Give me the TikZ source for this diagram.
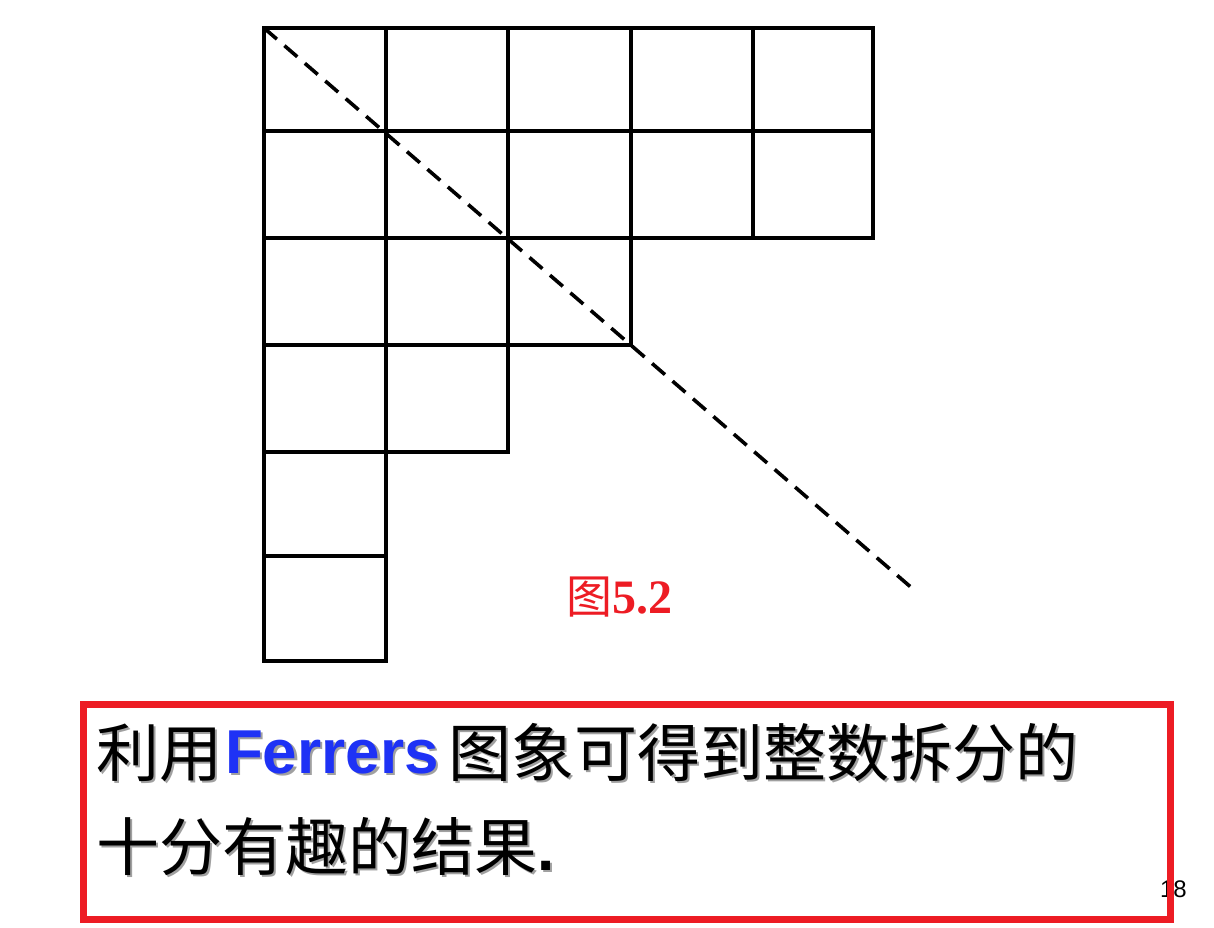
\documentclass[tikz,border=0pt]{standalone}
\usepackage{fontspec}
\setmainfont{Liberation Serif}
\newfontfamily\cjk{Noto Sans CJK SC}
\newfontfamily\arialf{Liberation Sans}
\definecolor{boxred}{RGB}{237,28,36}
\definecolor{fblue}{RGB}{30,50,245}
\definecolor{shadowgray}{RGB}{160,160,160}
\newcommand\shtext[5]{%
  \node[txt,text=#4] (#3) at (#1,#2)
    {\rlap{\hspace{2.5bp}\raisebox{-2.5bp}{\color{shadowgray}#5}}#5};}
\newcommand\cjkbig{\cjk\fontsize{63bp}{70bp}\selectfont}
\begin{document}
\begin{tikzpicture}[x=1bp,y=-1bp,
  gridline/.style={line width=3.6bp,black,line cap=rect},
  diag/.style={line width=3.6bp,black,dash pattern=on 17bp off 10bp},
  txt/.style={inner sep=0pt,outer sep=0pt,anchor=base west},
  redframe/.style={draw=boxred,line width=7bp}]
\useasboundingbox (0,0) rectangle (1214,928);
% Ferrers grid
\draw[gridline] (264,28) -- (873,28);
\draw[gridline] (264,131) -- (873,131);
\draw[gridline] (264,238) -- (873,238);
\draw[gridline] (264,345) -- (631,345);
\draw[gridline] (264,452) -- (508,452);
\draw[gridline] (264,556) -- (386,556);
\draw[gridline] (264,661) -- (386,661);
\draw[gridline] (264,28) -- (264,661);
\draw[gridline] (386,28) -- (386,661);
\draw[gridline] (508,28) -- (508,452);
\draw[gridline] (631,28) -- (631,345);
\draw[gridline] (753,28) -- (753,238);
\draw[gridline] (873,28) -- (873,238);
% diagonal
\coordinate (dstart) at (264,28);
\coordinate (dend) at (913,589);
\draw[diag] (dstart) -- (dend);
% caption
\node[txt,text=boxred] (cap) at (566,613)
  {{\cjk\fontsize{46bp}{50bp}\selectfont 图}{\bfseries\fontsize{48bp}{52bp}\selectfont 5.2}};
% page number
\node[txt] (pnum) at (1160,897) {\arialf\fontsize{24bp}{26bp}\selectfont 18};
% text in box
\shtext{96}{776}{la}{black}{\cjkbig 利用}
\shtext{225}{773}{fer}{fblue}{\arialf\bfseries\fontsize{62bp}{70bp}\selectfont Ferrers}
\shtext{448}{776}{lb}{black}{\cjkbig 图象可得到整数拆分的}
\shtext{96}{870}{lc}{black}{\cjkbig 十分有趣的结果\arialf\bfseries\fontsize{62bp}{70bp}\selectfont .}
% red frame
\node[redframe,inner sep=0pt,outer sep=0pt,minimum width=1087bp,minimum height=215bp,anchor=north west] (frame) at (83,704.5) {};
\end{tikzpicture}
\end{document}
